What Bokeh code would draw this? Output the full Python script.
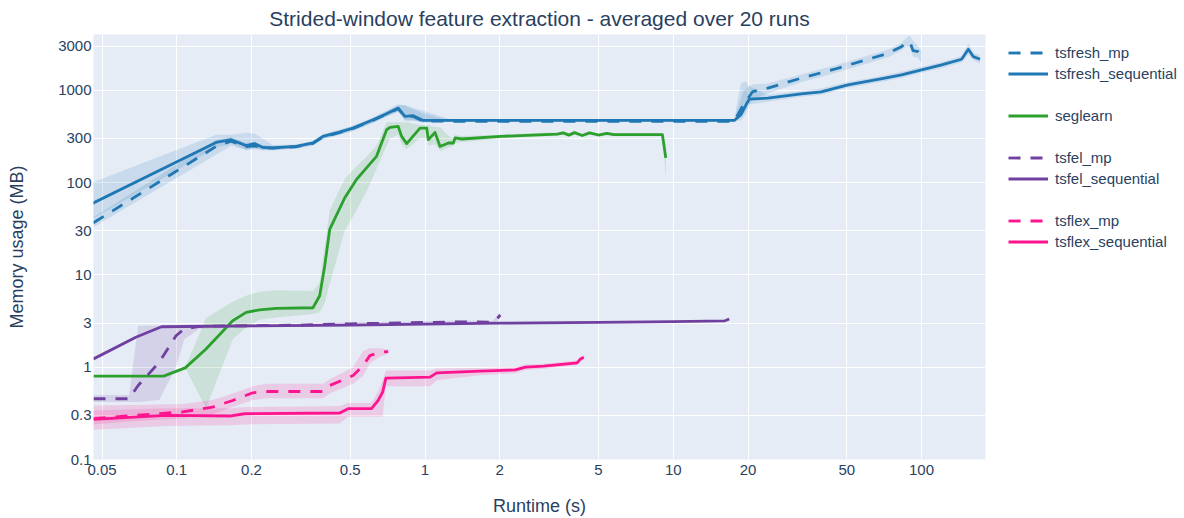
from bokeh.plotting import figure
from bokeh.layouts import row
from bokeh.models import Range1d, FixedTicker, CustomJSTickFormatter, Legend, LegendItem
from bokeh.embed import file_html
from bokeh.resources import INLINE

TITLE = "Strided-window feature extraction - averaged over 20 runs"
X_LABEL = "Runtime (s)"
Y_LABEL = "Memory usage (MB)"
X_TICKS = [0.05, 0.1, 0.2, 0.5, 1, 2, 5, 10, 20, 50, 100]
X_TICK_LABELS = ["0.05", "0.1", "0.2", "0.5", "1", "2", "5", "10", "20", "50", "100"]
Y_TICKS = [0.1, 0.3, 1, 3, 10, 30, 100, 300, 1000, 3000]
Y_TICK_LABELS = ["0.1", "0.3", "1", "3", "10", "30", "100", "300", "1000", "3000"]

# ---------------- tsfresh (sequential) ----------------
TSFRESH_SEQ_X = [0.0457, 0.144, 0.1656, 0.1904, 0.2056, 0.2222, 0.2438, 0.3031, 0.3538, 0.3882, 0.4396, 0.5132,
                 0.6181, 0.70, 0.78, 0.83, 0.897, 0.984, 1.262, 3.0, 8.0, 17.6, 18.74, 19.63, 20.24, 24.03, 32.74,
                 39.4, 50.56, 71.1, 83.0, 100, 120.5, 145, 154.4, 161.8, 172]
TSFRESH_SEQ_Y = [59.3, 272, 291, 251, 264, 240, 237, 246, 268, 316, 344, 389,
                 478, 556, 640, 520, 529, 470, 470, 470, 470, 470, 542, 695, 800, 820, 914,
                 960, 1143, 1349, 1465, 1659, 1878, 2163, 2773, 2307, 2163]
TSFRESH_SEQ_LO = [40, 240, 265, 225, 235, 225, 225, 235, 255, 300, 325, 365,
                  445, 520, 590, 470, 470, 450, 455, 460, 460, 460, 470, 560, 700, 750, 850,
                  890, 1060, 1250, 1360, 1540, 1740, 2000, 2450, 2100, 1950]
TSFRESH_SEQ_HI = [100, 330, 330, 345, 340, 300, 255, 258, 282, 335, 365, 415,
                  510, 600, 700, 690, 640, 600, 485, 482, 482, 482, 1200, 1250, 1100, 890, 985,
                  1040, 1230, 1450, 1580, 1790, 2020, 2330, 3200, 2550, 2400]

# ---------------- tsfresh (multiprocessing) ----------------
TSFRESH_MP_X = [0.0462, 0.144, 0.1656, 0.1904, 0.2056, 0.2222, 0.2438, 0.3031, 0.3538, 0.3882, 0.4396, 0.5132,
                0.6181, 0.70, 0.78, 0.83, 0.897, 0.984, 1.262, 5.0, 17.6, 19.2, 20.9, 24.03, 32.74, 44.6, 60.9,
                73.4, 83.0, 86.9, 89.7, 92.5, 97.0, 100]
TSFRESH_MP_Y = [36.7, 246, 280, 245, 250, 238, 236, 244, 265, 312, 340, 385,
                472, 550, 630, 520, 520, 462, 461, 461, 461, 700, 967, 1052, 1349, 1687, 2163,
                2512, 2959, 3267, 3325, 2679, 2612, 2307]
TSFRESH_MP_LO = [33, 200, 250, 225, 230, 222, 222, 232, 250, 295, 322, 360,
                 445, 515, 580, 470, 470, 445, 452, 452, 452, 560, 800, 920, 1220, 1530, 1960,
                 2280, 2700, 2950, 2900, 2300, 2250, 1950]
TSFRESH_MP_HI = [42, 290, 310, 270, 275, 255, 250, 256, 280, 330, 360, 410,
                 500, 590, 690, 680, 620, 560, 470, 470, 470, 1000, 1150, 1180, 1480, 1850, 2380,
                 2760, 3250, 3700, 3900, 3400, 3000, 2700]

# ---------------- seglearn ----------------
SEGLEARN_X = [0.0462, 0.0885, 0.1082, 0.1312, 0.168, 0.1904, 0.2154, 0.2517, 0.3538, 0.3765, 0.3944, 0.4132,
              0.4751, 0.5297, 0.5812, 0.6378, 0.7003, 0.7225, 0.78, 0.805, 0.8435, 0.9546, 1.016, 1.031, 1.097,
              1.15, 1.242, 1.30, 1.322, 1.407, 2.01, 3.41, 3.6, 3.8, 4.0, 4.3, 4.6, 5.0, 5.4, 5.77, 9.04, 9.33]
SEGLEARN_Y = [0.80, 0.80, 0.983, 1.576, 3.18, 3.92, 4.18, 4.33, 4.40, 5.93, 12.5, 31.1,
              68.4, 107.8, 144, 192, 373, 395, 405, 316, 264, 389, 389, 291, 349,
              246, 268, 268, 304, 296, 316, 335, 345, 326, 347, 323, 345, 327, 340, 330, 330, 185]
SEGLEARN_LO = [0.80, 0.80, 0.98, 0.36, 2.0, 2.7, 3.26, 3.46, 3.76, 3.92, 5.0, 8.0,
               30, 50, 80, 140, 250, 300, 330, 260, 230, 300, 300, 250, 260,
               220, 240, 250, 270, 275, 300, 322, 330, 315, 330, 312, 330, 315, 325, 318, 318, 112]
SEGLEARN_HI = [0.80, 0.80, 0.99, 3.4, 5.1, 5.93, 6.55, 6.8, 6.7, 8.3, 20, 50,
               110, 150, 190, 250, 450, 450, 450, 450, 450, 420, 420, 420, 400,
               400, 320, 300, 330, 320, 330, 350, 360, 340, 362, 335, 360, 340, 352, 342, 342, 260]

# ---------------- tsfel ----------------
TSFEL_SEQ_X = [0.0462, 0.0684, 0.0868, 0.2, 0.5, 1.0, 2.0, 5.0, 10.0, 16.15, 16.8]
TSFEL_SEQ_Y = [1.229, 2.11, 2.74, 2.80, 2.86, 2.93, 3.0, 3.06, 3.12, 3.18, 3.33]
TSFEL_SEQ_LO = [1.19, 2.05, 2.68, 2.74, 2.80, 2.87, 2.94, 3.0, 3.06, 3.12, 3.22]
TSFEL_SEQ_HI = [1.27, 2.17, 2.80, 2.86, 2.92, 2.99, 3.06, 3.12, 3.18, 3.24, 3.44]

TSFEL_MP_X = [0.0462, 0.0643, 0.0699, 0.085, 0.0993, 0.1072, 0.1233, 0.3, 0.5, 1.0, 1.5, 1.86, 1.918, 2.01]
TSFEL_MP_Y = [0.455, 0.455, 0.633, 1.13, 2.19, 2.59, 2.77, 2.85, 2.95, 3.05, 3.10, 3.06, 3.18, 3.67]
TSFEL_MP_LO = [0.42, 0.42, 0.42, 0.44, 1.0, 2.0, 2.6, 2.78, 2.87, 2.97, 3.02, 2.98, 3.0, 3.4]
TSFEL_MP_HI = [0.50, 0.50, 2.81, 2.83, 2.86, 2.88, 2.92, 2.95, 3.05, 3.15, 3.2, 3.16, 3.4, 3.9]

# ---------------- tsflex ----------------
TSFLEX_SEQ_X = [0.0462, 0.0905, 0.1656, 0.1874, 0.4535, 0.4899, 0.609, 0.6475, 0.675, 0.6957, 1.048, 1.115,
                1.668, 2.31, 2.54, 3.006, 4.10, 4.23, 4.36]
TSFLEX_SEQ_Y = [0.272, 0.300, 0.296, 0.313, 0.319, 0.355, 0.355, 0.436, 0.537, 0.761, 0.78, 0.868,
                0.905, 0.935, 1.0, 1.025, 1.113, 1.229, 1.28]
TSFLEX_SEQ_LO = [0.21, 0.23, 0.235, 0.24, 0.245, 0.29, 0.29, 0.29, 0.29, 0.62, 0.62, 0.72,
                 0.82, 0.86, 0.93, 0.96, 1.05, 1.15, 1.2]
TSFLEX_SEQ_HI = [0.34, 0.36, 0.36, 0.37, 0.38, 0.41, 0.41, 0.55, 0.72, 0.92, 0.92, 0.97,
                 0.98, 1.0, 1.07, 1.09, 1.18, 1.30, 1.35]

TSFLEX_MP_X = [0.0462, 0.0663, 0.1055, 0.1395, 0.168, 0.2025, 0.2293, 0.3882, 0.4132, 0.5132, 0.5633, 0.5995,
               0.658, 0.7107]
TSFLEX_MP_Y = [0.277, 0.300, 0.327, 0.370, 0.436, 0.528, 0.545, 0.545, 0.633, 0.812, 1.04, 1.334, 1.451, 1.473]
TSFLEX_MP_LO = [0.24, 0.26, 0.28, 0.31, 0.37, 0.44, 0.46, 0.46, 0.52, 0.66, 0.80, 1.10, 1.30, 1.40]
TSFLEX_MP_HI = [0.385, 0.39, 0.40, 0.44, 0.52, 0.62, 0.66, 0.66, 0.74, 1.0, 1.5, 1.6, 1.6, 1.55]

BLUE = "#1f77b4"
GREEN = "#2ca02c"
PURPLE = "#7040a0"
PINK = "#ff1490"
TEXT = "#2a3f5f"
FONT = "Liberation Sans"
DASH = "12 10"
LW = 2.8

SERIES = [
    ("tsfresh_mp", TSFRESH_MP_X, TSFRESH_MP_Y, TSFRESH_MP_LO, TSFRESH_MP_HI, BLUE, True),
    ("tsfresh_sequential", TSFRESH_SEQ_X, TSFRESH_SEQ_Y, TSFRESH_SEQ_LO, TSFRESH_SEQ_HI, BLUE, False),
    ("seglearn", SEGLEARN_X, SEGLEARN_Y, SEGLEARN_LO, SEGLEARN_HI, GREEN, False),
    ("tsfel_mp", TSFEL_MP_X, TSFEL_MP_Y, TSFEL_MP_LO, TSFEL_MP_HI, PURPLE, True),
    ("tsfel_sequential", TSFEL_SEQ_X, TSFEL_SEQ_Y, TSFEL_SEQ_LO, TSFEL_SEQ_HI, PURPLE, False),
    ("tsflex_mp", TSFLEX_MP_X, TSFLEX_MP_Y, TSFLEX_MP_LO, TSFLEX_MP_HI, PINK, True),
    ("tsflex_sequential", TSFLEX_SEQ_X, TSFLEX_SEQ_Y, TSFLEX_SEQ_LO, TSFLEX_SEQ_HI, PINK, False),
]
LEGEND_ORDER = ["tsfresh_mp", "tsfresh_sequential", None, "seglearn", None,
                "tsfel_mp", "tsfel_sequential", None, "tsflex_mp", "tsflex_sequential"]

MAIN_W, LEG_W, H = 993, 191, 518
B_LEFT, B_RIGHT, B_TOP, B_BOTTOM = 93, 8, 34, 57

p = figure(width=MAIN_W, height=H, x_axis_type="log", y_axis_type="log",
           x_range=Range1d(0.0462, 181), y_range=Range1d(0.1, 4010),
           output_backend="svg", toolbar_location=None,
           min_border_left=B_LEFT, min_border_right=B_RIGHT, min_border_top=B_TOP, min_border_bottom=B_BOTTOM,
           title=TITLE)

p.background_fill_color = "#E5ECF6"
p.border_fill_color = "white"
p.outline_line_color = None

p.title.text_font = FONT
p.title.text_font_size = "21px"
p.title.text_font_style = "normal"
p.title.text_color = TEXT
p.title.align = "center"
p.title.standoff = 9

tick_js = """
let best = 0, bd = Infinity;
for (let i = 0; i < tks.length; i++) {
  const d = Math.abs(Math.log(tks[i]) - Math.log(tick));
  if (d < bd) { bd = d; best = i; }
}
return labs[best];
"""
p.xaxis.ticker = FixedTicker(ticks=X_TICKS)
p.yaxis.ticker = FixedTicker(ticks=Y_TICKS)
p.xaxis.formatter = CustomJSTickFormatter(args=dict(tks=X_TICKS, labs=X_TICK_LABELS), code=tick_js)
p.yaxis.formatter = CustomJSTickFormatter(args=dict(tks=Y_TICKS, labs=Y_TICK_LABELS), code=tick_js)

for ax in (p.xaxis, p.yaxis):
    ax.axis_line_color = None
    ax.major_tick_line_color = None
    ax.minor_tick_line_color = None
    ax.major_tick_out = 0
    ax.major_tick_in = 0
    ax.major_label_text_font = FONT
    ax.major_label_text_font_size = "15px"
    ax.major_label_text_color = TEXT
    ax.axis_label_text_font = FONT
    ax.axis_label_text_font_size = "18px"
    ax.axis_label_text_font_style = "normal"
    ax.axis_label_text_color = TEXT

p.xaxis.axis_label = X_LABEL
p.yaxis.axis_label = Y_LABEL
p.xaxis.major_label_standoff = 5
p.yaxis.major_label_standoff = 2
p.xaxis.axis_label_standoff = 18
p.yaxis.axis_label_standoff = 28

p.xgrid.grid_line_color = "white"
p.ygrid.grid_line_color = "white"
p.xgrid.grid_line_width = 1
p.ygrid.grid_line_width = 1

# uncertainty bands first, then mean lines
for name, xs, ys, lo, hi, color, dashed in SERIES:
    p.varea(x=xs, y1=lo, y2=hi, fill_color=color, fill_alpha=0.15)

for name, xs, ys, lo, hi, color, dashed in SERIES:
    p.line(xs, ys, line_color=color, line_width=LW, line_join="round",
           line_dash=DASH if dashed else "solid")

# ---- legend panel (separate figure to the right) ----
lf = figure(width=LEG_W, height=H, x_range=Range1d(0, 1), y_range=Range1d(0, 1),
            x_axis_type=None, y_axis_type=None, output_backend="svg", toolbar_location=None,
            min_border_left=0, min_border_right=0, min_border_top=B_TOP, min_border_bottom=B_BOTTOM)
lf.outline_line_color = None
lf.background_fill_color = "white"
lf.border_fill_color = "white"
lf.xgrid.visible = False
lf.ygrid.visible = False

# legend proxies: styled like the series, their (off-range) points are never visible
OFF = [-10, -9]
proxies = {}
for name, xs, ys, lo, hi, color, dashed in SERIES:
    proxies[name] = lf.line(OFF, OFF, line_color=color, line_width=LW,
                            line_dash=DASH if dashed else "solid")
blank = lf.line(OFF, OFF, line_alpha=0)

items = []
for name in LEGEND_ORDER:
    if name is None:
        items.append(LegendItem(label=" ", renderers=[blank]))
    else:
        items.append(LegendItem(label=name, renderers=[proxies[name]]))

legend = Legend(items=items, location=(7, 199), orientation="vertical",
                margin=0, padding=8, spacing=0, label_height=21, glyph_height=21, glyph_width=40,
                label_standoff=7, label_text_font=FONT, label_text_font_size="15px",
                label_text_color=TEXT, background_fill_alpha=0, border_line_alpha=0)
lf.add_layout(legend, "center")

layout = row(p, lf, spacing=0)
open("out.html", "w").write(file_html(layout, INLINE))
